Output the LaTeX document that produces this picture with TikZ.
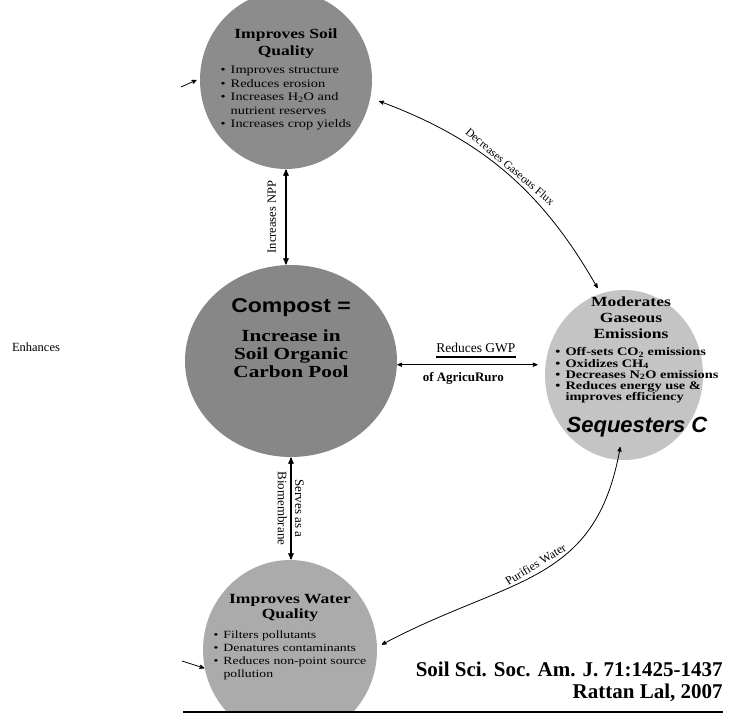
\documentclass[tikz,border=0pt]{standalone}
\usepackage{fontspec}
\setmainfont{Liberation Serif}
\newfontfamily\bubblefont[FakeStretch=1.25]{Liberation Serif}
\newfontfamily\bubblesans[FakeStretch=1.15]{Liberation Sans}
\newfontfamily\plainsans{Liberation Sans}
\usepackage{tikz}
\usetikzlibrary{arrows, positioning, shapes.geometric}
\colorlet{colorSoil}{black!45}
\colorlet{colorPool}{black!47}
\colorlet{colorGas}{black!23}
\colorlet{colorWater}{black!33}
\tikzset{
  bubble/.style={ellipse, inner sep=0pt, draw=none},
  bubbletitle/.style={align=center, inner sep=0pt, font=\bubblefont\bfseries\fontsize{14}{17}\selectfont},
  bubblelist/.style={inner sep=0pt, font=\bubblefont\fontsize{11.5}{13.5}\selectfont},
  link/.style={<->},
  feed/.style={->},
  edgelabel/.style={font=\fontsize{13}{15}\selectfont}
}
\newcommand{\bubbleitems}[1]{\begin{tabular}{@{}l@{\hspace{5pt}}l@{}}#1\end{tabular}}
\newcommand{\itm}{\textbullet &}

\begin{document}
\begin{tikzpicture}[>=stealth', thick, x=1pt, y=1pt]
\useasboundingbox (0,0) rectangle (737,-719);
\node[bubble, fill=colorSoil, minimum width=172pt, minimum height=178pt] (soil) at (286,-80) {};
\node[bubble, fill=colorPool, minimum width=212pt, minimum height=192pt] (pool) at (291,-361) {};
\node[bubble, fill=colorGas, minimum width=158pt, minimum height=170pt] (gas) at (624,-375) {};
\node[bubble, fill=colorWater, minimum width=174pt, minimum height=180pt] (water) at (290,-650) {};

\node[bubbletitle] (soiltitle) at ([yshift=36.5pt]soil.center) {Improves Soil\\Quality};
\node[bubblelist, below=5pt of soiltitle] (soillist) {\bubbleitems{\itm Improves structure\\ \itm Reduces erosion\\ \itm Increases H\textsubscript{2}O and\\ & nutrient reserves\\ \itm Increases crop yields}};

\node[inner sep=0pt, font=\bubblesans\bfseries\fontsize{20}{24}\selectfont] (pooltitle) at ([yshift=53pt]pool.center) {Compost =};
\node[bubbletitle, font=\bubblefont\bfseries\fontsize{17}{18}\selectfont, below=12pt of pooltitle] (pooltext) {Increase in\\Soil Organic\\Carbon Pool};

\node[bubbletitle, font=\bubblefont\bfseries\fontsize{14}{16}\selectfont] (gastitle) at ([xshift=7pt, yshift=57pt]gas.center) {Moderates\\Gaseous\\Emissions};
\node[bubblelist, font=\bubblefont\bfseries\fontsize{11.5}{10.7}\selectfont, below=8pt of gastitle, xshift=6pt] (gaslist) {\bubbleitems{\itm Off-sets CO\textsubscript{2} emissions\\ \itm Oxidizes CH\textsubscript{4}\\ \itm Decreases N\textsubscript{2}O emissions\\ \itm Reduces energy use \&\\ & improves efficiency}};
\node[inner sep=0pt, font=\plainsans\bfseries\itshape\fontsize{22}{24}\selectfont, below=12pt of gaslist] (seq) {Sequesters C};

\node[bubbletitle, font=\bubblefont\bfseries\fontsize{14}{15.5}\selectfont] (watertitle) at ([yshift=42pt]water.center) {Improves Water\\Quality};
\node[bubblelist, font=\bubblefont\fontsize{11}{12.8}\selectfont, below=7pt of watertitle] (waterlist) {\bubbleitems{\itm Filters pollutants\\ \itm Denatures contaminants\\ \itm Reduces non-point source\\ & pollution}};

\draw[link, line width=1.3pt] (pool.north -| soil.south) -- node[sloped, above=6pt, allow upside down, edgelabel, font=\fontsize{12.5}{14}\selectfont] (npp) {Increases NPP} (soil.south);
\draw[link, line width=1.3pt] (pool.south) -- node[sloped, above, allow upside down, edgelabel] (serves) {Serves as a} node[sloped, below, allow upside down, edgelabel] (biomem) {Biomembrane} (pool.south |- water.north);
\draw[link] (pool.-2) -- node[pos=0.56, above=8pt, inner xsep=0pt, font=\fontsize{13.5}{15}\selectfont] (gwp) {Reduces GWP} node[pos=0.47, below=4pt, font=\bfseries\fontsize{13}{15}\selectfont] (agri) {of AgricuRuro} ([xshift=-7pt]pool.-2 -| gas.west);
\draw[line width=2pt] (gwp.south west) -- (gwp.south east);
\draw[link, shorten <=9pt, shorten >=6pt] (soil.-12) to[bend left=20] node[sloped, above, font=\fontsize{11.5}{13}\selectfont] (flux) {Decreases Gaseous Flux} (gas.106);
\draw[link, shorten <=10pt, shorten >=5pt] ([xshift=-15pt]seq.south) to[out=-100, in=28, looseness=1.2] node[sloped, above, font=\fontsize{12}{14}\selectfont] (purify) {Purifies Water} (water.2);

\coordinate (soilfeed) at (181,-87);
\coordinate (waterfeed) at (182,-661);
\draw[feed] (soilfeed) -- ([xshift=-3pt]soil.west);
\draw[feed] (waterfeed) -- (water.192);

\node[font=\fontsize{12.5}{14}\selectfont] (enhances) at (36,-347) {Enhances};
\node[anchor=east, align=right, inner sep=0pt, font=\bfseries\fontsize{21}{21.5}\selectfont] (cite) at (723,-682) {Soil Sci. Soc. Am. J. 71:1425-1437\\Rattan Lal, 2007};

\coordinate (ruleleft) at (183,-712);
\coordinate (ruleright) at (723,-712);
\fill[white] (ruleleft) rectangle ([yshift=-10pt]ruleright);
\draw[line width=2.5pt] (ruleleft) -- (ruleright);
\end{tikzpicture}
\end{document}
